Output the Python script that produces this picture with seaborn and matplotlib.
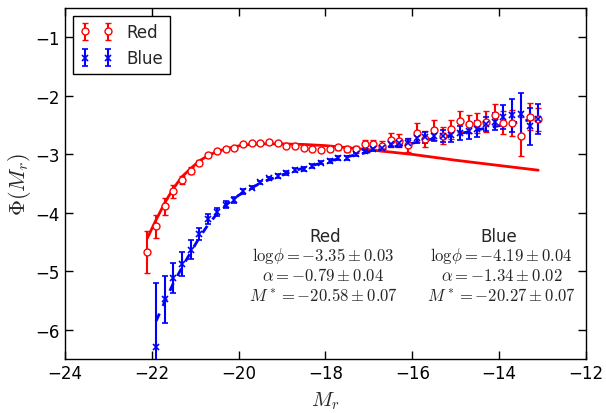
"""
plot.py - r-band luminosity function, red and blue galaxies
"""

import numpy as np
import pandas as pd

import matplotlib
matplotlib.use("Agg")
import matplotlib.pyplot as plt
import seaborn as sns


# Data

red_mag = [
    -22.1, -21.9, -21.7, -21.5, -21.3, -21.1, -20.9, -20.7, -20.5, -20.3,
    -20.1, -19.9, -19.7, -19.5, -19.3, -19.1, -18.9, -18.7, -18.5, -18.3,
    -18.1, -17.9, -17.7, -17.5, -17.3, -17.1, -16.9, -16.7, -16.5, -16.3,
    -16.1, -15.9, -15.7, -15.5, -15.3, -15.1, -14.9, -14.7, -14.5, -14.3,
    -14.1, -13.9, -13.7, -13.5, -13.3, -13.1
]

red_phi = [
    -4.67, -4.23, -3.89, -3.63, -3.44, -3.28, -3.14, -3.01, -2.94, -2.90,
    -2.89, -2.82, -2.80, -2.81, -2.79, -2.81, -2.85, -2.86, -2.89, -2.90,
    -2.93, -2.91, -2.88, -2.91, -2.91, -2.83, -2.83, -2.86, -2.76, -2.77,
    -2.84, -2.63, -2.74, -2.59, -2.68, -2.57, -2.43, -2.48, -2.46, -2.44,
    -2.32, -2.46, -2.46, -2.69, -2.36, -2.40
]

red_err = [
    0.36, 0.20, 0.15, 0.11, 0.07, 0.06, 0.04, 0.03, 0.03, 0.02,
    0.02, 0.02, 0.02, 0.02, 0.02, 0.02, 0.02, 0.02, 0.02, 0.02,
    0.02, 0.03, 0.04, 0.05, 0.06, 0.07, 0.08, 0.09, 0.12, 0.11,
    0.12, 0.16, 0.14, 0.17, 0.15, 0.16, 0.18, 0.15, 0.17, 0.18,
    0.18, 0.20, 0.22, 0.33, 0.23, 0.20
]

blue_mag = [
    -21.9, -21.7, -21.5, -21.3, -21.1, -20.9, -20.7, -20.5, -20.3, -20.1,
    -19.9, -19.7, -19.5, -19.3, -19.1, -18.9, -18.7, -18.5, -18.3, -18.1,
    -17.9, -17.7, -17.5, -17.3, -17.1, -16.9, -16.7, -16.5, -16.3, -16.1,
    -15.9, -15.7, -15.5, -15.3, -15.1, -14.9, -14.7, -14.5, -14.3, -14.1,
    -13.9, -13.7, -13.5, -13.3, -13.1
]

blue_phi = [
    -6.30, -5.48, -5.11, -4.87, -4.63, -4.36, -4.11, -3.99, -3.86, -3.78,
    -3.63, -3.57, -3.48, -3.41, -3.37, -3.32, -3.27, -3.25, -3.20, -3.14,
    -3.11, -3.06, -3.06, -3.00, -2.95, -2.90, -2.89, -2.83, -2.81, -2.80,
    -2.72, -2.71, -2.68, -2.69, -2.67, -2.63, -2.60, -2.57, -2.48, -2.44,
    -2.36, -2.33, -2.31, -2.52, -2.40
]

blue_err = [
    1.10, 0.41, 0.26, 0.20, 0.16, 0.10, 0.085, 0.07, 0.06, 0.05,
    0.04, 0.03, 0.03, 0.03, 0.03, 0.03, 0.03, 0.03, 0.03, 0.03,
    0.03, 0.03, 0.03, 0.03, 0.03, 0.04, 0.04, 0.05, 0.06, 0.07,
    0.08, 0.10, 0.09, 0.10, 0.11, 0.12, 0.13, 0.14, 0.12, 0.14,
    0.20, 0.28, 0.36, 0.32, 0.26
]

# Schechter fits

red_fit_mag = [
    -22.1, -21.9, -21.7, -21.5, -21.3, -21.1, -20.9, -20.7, -20.5, -20.3,
    -20.1, -19.9, -19.5, -19.0, -18.5, -18.0, -17.0, -16.0, -15.0, -14.0,
    -13.1
]

red_fit_phi = [
    -4.43, -4.12, -3.83, -3.58, -3.38, -3.24, -3.11, -3.02, -2.95, -2.91,
    -2.87, -2.84, -2.82, -2.82, -2.83, -2.85, -2.92, -3.00, -3.10, -3.19,
    -3.27
]

blue_fit_mag = [
    -21.9, -21.7, -21.5, -21.3, -21.1, -20.9, -20.7, -20.5, -20.3, -20.0,
    -19.5, -19.0, -18.5, -18.0, -17.5, -17.0, -16.5, -16.0, -15.5, -15.0,
    -14.5, -14.0, -13.5, -13.1
]

blue_fit_phi = [
    -5.85, -5.52, -5.20, -4.93, -4.67, -4.42, -4.20, -4.02, -3.87, -3.70,
    -3.49, -3.35, -3.23, -3.13, -3.04, -2.96, -2.88, -2.81, -2.73, -2.66,
    -2.58, -2.51, -2.44, -2.38
]

red_params = [
    r"$\mathrm{log}\phi = -3.35 \pm 0.03$",
    r"$\alpha = -0.79 \pm 0.04$",
    r"$M^* = -20.58 \pm 0.07$"
]

blue_params = [
    r"$\mathrm{log}\phi = -4.19 \pm 0.04$",
    r"$\alpha = -1.34 \pm 0.02$",
    r"$M^* = -20.27 \pm 0.07$"
]


sns.set_style("ticks")

plt.rcParams["font.family"] = ["DejaVu Sans"]
plt.rcParams["mathtext.fontset"] = "cm"
plt.rcParams["xtick.direction"] = "in"
plt.rcParams["ytick.direction"] = "in"
plt.rcParams["xtick.top"] = True
plt.rcParams["ytick.right"] = True
plt.rcParams["xtick.major.size"] = 6
plt.rcParams["ytick.major.size"] = 6
plt.rcParams["xtick.color"] = "black"
plt.rcParams["ytick.color"] = "black"
plt.rcParams["axes.edgecolor"] = "black"

fig = plt.figure(figsize=(6.06, 4.14), dpi=100)

ax = fig.add_axes([0.107, 0.130, 0.860, 0.848])

# Fit curves

sns.lineplot(
    data=pd.DataFrame({"M": red_fit_mag, "phi": red_fit_phi}),
    x="M",
    y="phi",
    color="red",
    linewidth=2,
    sort=False,
    ax=ax
)

sns.lineplot(
    data=pd.DataFrame({"M": blue_fit_mag, "phi": blue_fit_phi}),
    x="M",
    y="phi",
    color="blue",
    linewidth=2,
    linestyle=(0, (3, 3)),
    sort=False,
    ax=ax
)

# Data points

ax.errorbar(
    red_mag,
    red_phi,
    yerr=red_err,
    fmt="o",
    color="red",
    mfc="white",
    mec="red",
    mew=1.0,
    markersize=5,
    elinewidth=1.5,
    capsize=2.5,
    capthick=1.5,
    label="Red",
    zorder=3
)

ax.errorbar(
    blue_mag,
    blue_phi,
    yerr=blue_err,
    fmt="x",
    color="blue",
    markersize=4,
    mew=1.2,
    elinewidth=1.5,
    capsize=2.5,
    capthick=1.5,
    label="Blue",
    zorder=3
)

# Fit parameters

ax.text(-18, -4.4, "Red", ha="center", va="center", fontsize=12)
ax.text(-14, -4.4, "Blue", ha="center", va="center", fontsize=12)

for i, (r, b) in enumerate(zip(red_params, blue_params)):
    y = -4.72 - 0.34 * i
    ax.text(-18.05, y, r, ha="center", va="center", fontsize=12)
    ax.text(-13.95, y, b, ha="center", va="center", fontsize=12)

ax.set_xlim(-24, -12)
ax.set_ylim(-6.5, -0.5)

ax.set_xticks(np.arange(-24, -11, 2))
ax.set_yticks(np.arange(-6, 0, 1))

ax.tick_params(labelsize=12, width=1)

ax.set_xlabel(r"$M_r$", fontsize=15, labelpad=5)
ax.set_ylabel(r"$\Phi(M_r)$", fontsize=16, labelpad=2)

leg = ax.legend(
    loc="upper left",
    numpoints=2,
    fontsize=12,
    fancybox=False,
    edgecolor="black",
    framealpha=1,
    handlelength=2.0,
    borderaxespad=0.5
)
leg.get_frame().set_linewidth(1)

for s in ax.spines.values():
    s.set_linewidth(1)
    s.set_color("black")

fig.savefig("out.png", dpi=100)

plt.close(fig)
